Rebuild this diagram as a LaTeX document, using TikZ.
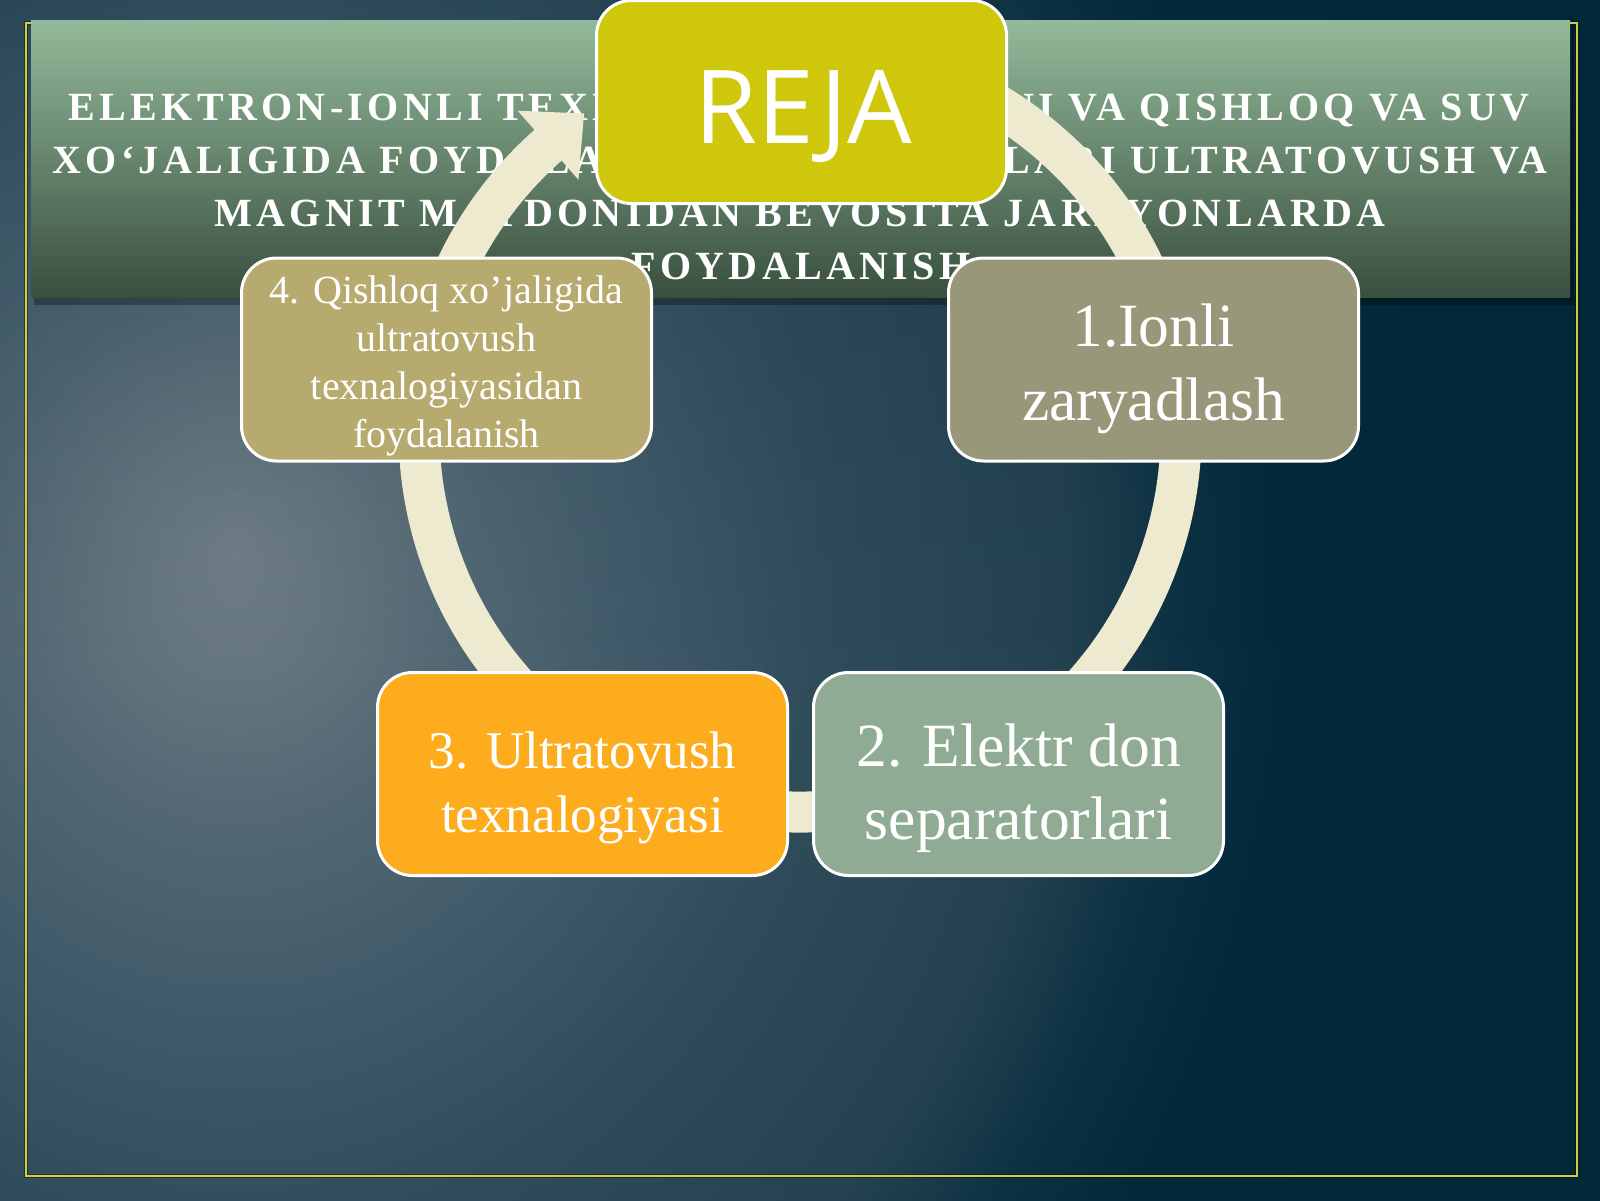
\documentclass[tikz,border=0pt]{standalone}
\usepackage{fontspec}
\setmainfont{Liberation Serif}
\newfontfamily\rejafont{Open Sans}
\newfontfamily\titlefont{Liberation Serif}[LetterSpace=10.9]
\usetikzlibrary{calc,fadings}
\definecolor{bg0}{HTML}{707E88}
\definecolor{bg1}{HTML}{66767F}
\definecolor{bg2}{HTML}{526773}
\definecolor{bg3}{HTML}{3F5968}
\definecolor{bg4}{HTML}{304C5B}
\definecolor{bg5}{HTML}{23414F}
\definecolor{bg6}{HTML}{0C3142}
\definecolor{bg7}{HTML}{022A3A}
\definecolor{bg8}{HTML}{012839}
\definecolor{frameyellow}{HTML}{D0CE3A}
\definecolor{titletop}{HTML}{93BA9A}
\definecolor{titlemid}{HTML}{64866A}
\definecolor{titlebot}{HTML}{394F3F}
\definecolor{ringcol}{HTML}{EDEACF}
\definecolor{rejacol}{HTML}{CFC70B}
\definecolor{tancol}{HTML}{B7AA6E}
\definecolor{olivecol}{HTML}{98977A}
\definecolor{orangecol}{HTML}{FCAC1C}
\definecolor{sagecol}{HTML}{8FAB94}
\pgfdeclareradialshading{bgshade}{\pgfpoint{0bp}{0bp}}{color(0bp)=(bg0); color(1.5bp)=(bg1); color(3.7bp)=(bg2); color(6.5bp)=(bg3); color(9.2bp)=(bg4); color(13bp)=(bg5); color(14.8bp)=(bg6); color(16.4bp)=(bg7); color(25bp)=(bg8); color(50bp)=(bg8)}
\tikzfading[name=topfade, top color=transparent!0, bottom color=transparent!100]
\begin{document}
\begin{tikzpicture}[x=1pt,y=-1pt,
  boxst/.style={draw=white, line width=3pt, rounded corners=35pt, minimum width=410pt, minimum height=203pt, inner sep=0pt},
  boxtext/.style={text=white, align=center, inner sep=0pt},
  titleline/.style={text=white, anchor=base, inner sep=0pt, font=\titlefont\bfseries\fontsize{40}{53}\selectfont},
  ringline/.style={draw=ringcol, line width=41pt, line cap=butt}]
\useasboundingbox (0,0) rectangle (1600,1200);
% background
\begin{scope}
\clip (0,0) rectangle (1600,1200);
\fill[bg8] (0,0) rectangle (1600,1200);
\shade[shading=bgshade] (235,555) ellipse[x radius=1600, y radius=1850];
\fill[bg8, path fading=topfade, fill opacity=0.2] (0,0) rectangle (1600,650);
\end{scope}
% frame
\draw[line width=4.5pt, black, opacity=0.35] (26,23) rectangle (1577,1176);
\draw[line width=2.2pt, frameyellow] (26,23) rectangle (1577,1176);
% title box
\fill[black, opacity=0.3] (34,25) rectangle (1574,305);
\shade[top color=titletop, middle color=titlemid, bottom color=titlebot] (31,20) rectangle (1570,297);
\node[titleline] (title1) at (799,120) {ELEKTRON-IONLI TEXNOLOGIYA\kern46pt LARINI VA QISHLOQ VA SUV};
\node[titleline] (title2) at (800,173) {XO‘JALIGIDA FOYDALANILADIGAN\kern-11pt{} USULLARI ULTRATOVUSH VA};
\node[titleline] (title3) at (800,226) {MAGNIT MAYDONIDAN BEVOSITA JARAYONLARDA};
\node[titleline] (title4) at (801,279) {FOYDALANISH};
% cycle ring with arrow
\coordinate (rc) at (800,431);
\draw[ringline] ($(rc)+(-100:381)$) arc[start angle=-100, end angle=230, radius=381];
\coordinate (ah1) at ($(rc)+(228.6:427)$);
\coordinate (ah2) at ($(rc)+(228.6:335)$);
\coordinate (tip) at ($(rc)+(228.6:381)+(318.6:48)$);
\fill[ringcol] (ah1) -- (tip) -- (ah2) -- cycle;
% boxes
\node[boxst, fill=rejacol] (reja) at (801.5,102) {};
\node[boxst, fill=tancol] (b4) at (446.5,359.5) {};
\node[boxst, fill=olivecol] (b1) at (1153.5,359.5) {};
\node[boxst, fill=orangecol] (b3) at (582.5,774) {};
\node[boxst, fill=sagecol] (b2) at (1018.5,774) {};
% texts
\node[text=white, anchor=base, inner sep=0pt, font=\rejafont\fontsize{102}{120}\selectfont] (rejat) at (803,143) {REJA};
\node[boxtext, font=\fontsize{40}{48}\selectfont] (t4) at (446.5,365.5) {4. Qishloq xo’jaligida\\ultratovush\\texnalogiyasidan\\foydalanish};
\node[boxtext, font=\fontsize{61.5}{74}\selectfont] (t1) at (1153.5,369) {1.Ionli\\zaryadlash};
\node[boxtext, font=\fontsize{53}{64}\selectfont] (t3) at (582.5,787.5) {3. Ultratovush\\texnalogiyasi};
\node[boxtext, font=\fontsize{61.5}{73}\selectfont] (t2) at (1018.5,788) {2. Elektr don\\separatorlari};
\end{tikzpicture}
\end{document}
